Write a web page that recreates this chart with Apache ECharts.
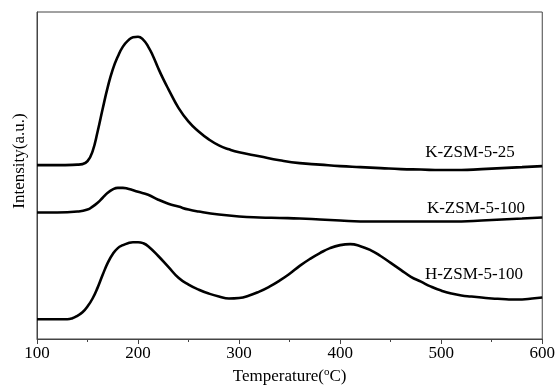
<!DOCTYPE html>
<html>
<head>
<meta charset="utf-8">
<script src="https://cdn.jsdelivr.net/npm/echarts@6/dist/echarts.min.js"></script>
<style>html,body{margin:0;padding:0;background:#fff;}#c{width:558px;height:390px;}</style>
</head>
<body>
<div id="c"></div>
<script>
// Temperature (°C) and intensity (arbitrary units, offset stacked as in the figure)
const tempA = [100,120,140,145,150,155,160,165,170,175,180,185,190,195,200,205,210,215,220,225,230,240,250,260,270,280,290,300,320,340,360,380,400,420,440,460,480,500,520,540,560,580,600];
const yA_px = [167,167,166.5,166,163,153,133,110,88,70,57,47,41,37.5,37,40,47,57,69,80,90,109,123,133,141,147,151,154,158,162,165,166.5,168,169,170,171,171.5,172,172,171,170,169,168];

const tempB = [100,120,140,150,155,160,165,170,175,180,185,190,200,210,220,230,240,250,260,280,300,320,340,360,380,400,420,440,460,480,500,520,540,560,580,600];
const yB_px = [215,215,214,212,209,205,200,195,191.5,190,190,191,194,197,202,206,209,212,214,217,219,220,220.5,221,222,223,224,224,224,224,224,224,223,222,221,220];

const tempC = [100,120,130,135,140,145,150,155,160,165,170,175,180,185,190,195,200,205,210,220,230,240,250,260,270,280,290,300,310,320,330,340,350,360,370,380,390,400,410,420,430,440,450,460,470,480,490,500,510,520,530,540,550,560,570,580,590,600];
const yC_px = [323,323,323,322,319.5,316,310,302,291,278,266,257,251,248,246,245,245,246,249,259,270,281,288,293,297,300,302,301.5,299,295,290,284,277,269,262,256,251,248,247,249,253,259,266,273,280,285,290,294,297,299,300,301,302,302.5,303,303,302,301];

const seriesNames = ['K-ZSM-5-25','K-ZSM-5-100','H-ZSM-5-100'];
const xTicks = [100,200,300,400,500,600];

// intensity values (height above the x axis)
const BASE = 343;
const toVal = a => a.map(v => BASE - v);
const valA = toVal(yA_px), valB = toVal(yB_px), valC = toVal(yC_px);
const pairs = (t, v) => t.map((x, i) => [x, v[i]]);

const chart = echarts.init(document.getElementById('c'));
const font = '"Liberation Serif","Times New Roman",serif';
const lineStyle = {color:'#000', width:2.6};
chart.setOption({
  animation:false,
  grid:{left:37, right:15, top:12, bottom:47, show:true, borderColor:'#444', borderWidth:1},
  xAxis:{
    type:'value', min:100, max:600, interval:100,
    axisLine:{lineStyle:{color:'#444', width:1}},
    axisTick:{show:true, inside:false, length:5, lineStyle:{color:'#444'}},
    minorTick:{show:true, splitNumber:2, length:3, lineStyle:{color:'#444'}},
    splitLine:{show:false},
    axisLabel:{color:'#000', fontFamily:font, fontSize:17, margin:6,
      formatter: v => xTicks.includes(v) ? String(v) : ''},
    name:'Temperature({sup|o}C)', nameLocation:'middle', nameGap:28,
    nameTextStyle:{color:'#000', fontFamily:font, fontSize:17,
      rich:{sup:{fontFamily:font, fontSize:11, verticalAlign:'top', padding:[0,0,8,0], color:'#000'}}}
  },
  yAxis:{
    type:'value', min:0, max:331,
    axisLine:{show:true, lineStyle:{color:'#444'}},
    axisTick:{show:false}, axisLabel:{show:false}, splitLine:{show:false}
  },
  graphic:[
    {type:'text', x:20, y:161, rotation:Math.PI/2, style:{text:'Intensity(a.u.)', font:'17px ' + font, fill:'#000', textAlign:'center', textVerticalAlign:'middle'}},
    {type:'text', x:470, y:153, style:{text:seriesNames[0], font:'17px ' + font, fill:'#000', textAlign:'center', textVerticalAlign:'middle'}},
    {type:'text', x:476, y:209, style:{text:seriesNames[1], font:'17px ' + font, fill:'#000', textAlign:'center', textVerticalAlign:'middle'}},
    {type:'text', x:474, y:275, style:{text:seriesNames[2], font:'17px ' + font, fill:'#000', textAlign:'center', textVerticalAlign:'middle'}}
  ],
  series:[
    {name:seriesNames[0], type:'line', data:pairs(tempA, valA), showSymbol:false, smooth:0.5, lineStyle:lineStyle},
    {name:seriesNames[1], type:'line', data:pairs(tempB, valB), showSymbol:false, smooth:0.5, lineStyle:lineStyle},
    {name:seriesNames[2], type:'line', data:pairs(tempC, valC), showSymbol:false, smooth:0.5, lineStyle:lineStyle}
  ]
});
</script>
</body>
</html>
